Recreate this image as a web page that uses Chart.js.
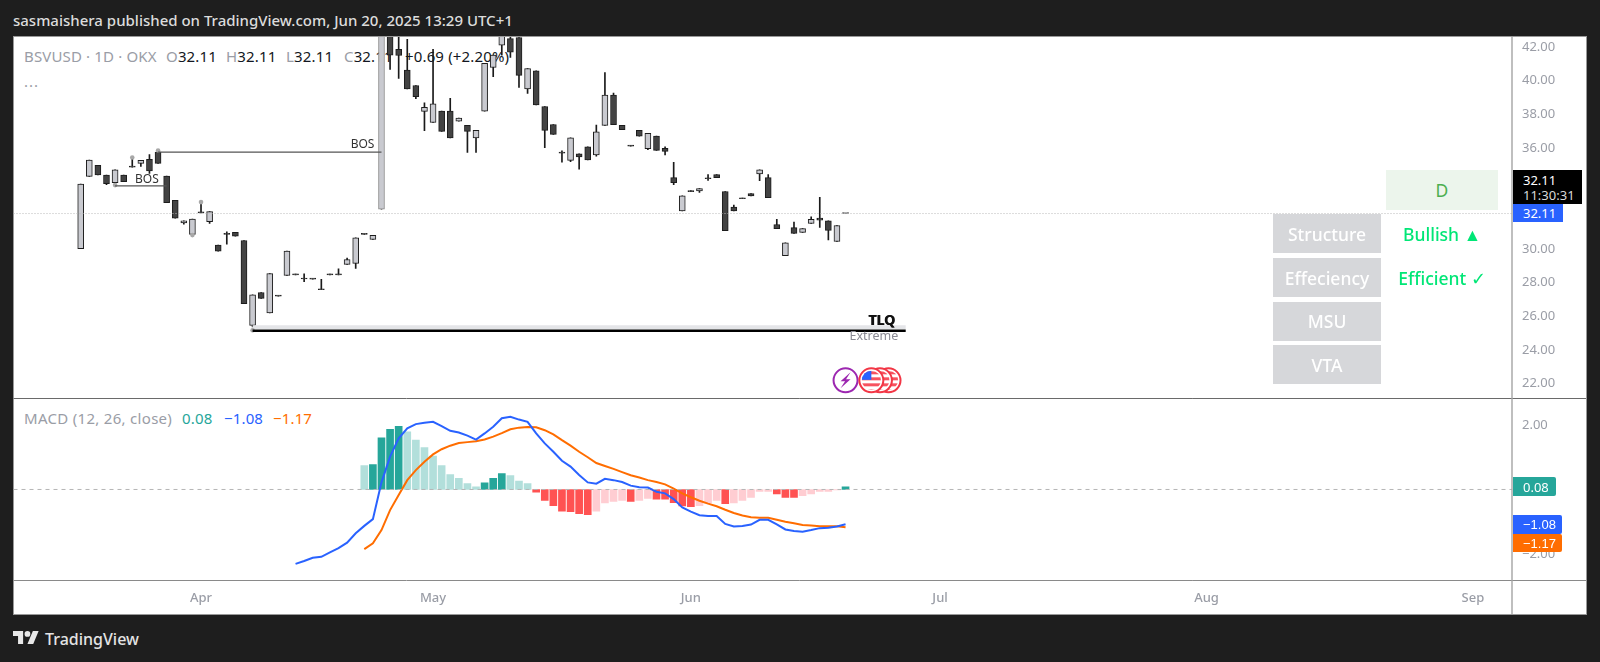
<!DOCTYPE html>
<html>
<head>
<meta charset="utf-8">
<script src="https://cdn.jsdelivr.net/npm/chart.js@4"></script>
<style>
html,body{margin:0;padding:0;width:1600px;height:662px;overflow:hidden;background:#1e1e1e;font-family:"Noto Sans",sans-serif}
.a{position:absolute;white-space:nowrap;line-height:1}
.lg{font-size:15px;letter-spacing:.15px;color:#9a9da6}
.lg span{color:#131722}
#panel{position:absolute;left:13px;top:36px;width:1572px;height:577px;background:#fff;border:1px solid #999}
canvas{position:absolute;left:0;top:0;z-index:2}
.front{z-index:3}
.cell{position:absolute;display:flex;align-items:center;justify-content:center;font-size:17.5px;z-index:3}
.gray{left:1273px;width:108px;height:39px;background:#d6d7da;color:#fff;font-weight:500}
.tag{position:absolute;left:1513px;z-index:3;display:flex;align-items:center;padding-left:10px;box-sizing:border-box;color:#fff;font-size:13px;border-radius:0 2px 2px 0}
</style>
</head>
<body>
<div id="panel"></div>
<div class="a" style="left:13px;top:13px;color:#dcdcdc;font-size:15px;font-weight:500">sasmaishera published on TradingView.com, Jun 20, 2025 13:29 UTC+1</div>

<div class="a lg" style="left:24px;top:49px">BSVUSD · 1D · OKX</div>
<div class="a lg" style="left:166px;top:49px">O<span>32.11</span></div>
<div class="a lg" style="left:226px;top:49px">H<span>32.11</span></div>
<div class="a lg" style="left:286px;top:49px">L<span>32.11</span></div>
<div class="a lg" style="left:344px;top:49px">C<span>32.11</span></div>
<div class="a lg" style="left:405px;top:49px;color:#131722">+0.69 (+2.20%)</div>
<div class="a lg" style="left:24px;top:74px;letter-spacing:1px">...</div>

<div class="a lg" style="left:24px;top:411px;letter-spacing:.3px">MACD (12, 26, close)</div>
<div class="a lg" style="left:182px;top:411px;color:#26a69a">0.08</div>
<div class="a lg" style="left:224px;top:411px;color:#2962ff">−1.08</div>
<div class="a lg" style="left:273px;top:411px;color:#ff6d00">−1.17</div>

<canvas id="c" width="1600" height="662"></canvas>

<div class="cell" style="left:1386px;top:170px;width:112px;height:40px;background:#ecf5ec;color:#4caf50">D</div>
<div class="cell gray" style="top:214px">Structure</div>
<div class="cell gray" style="top:258px">Effeciency</div>
<div class="cell gray" style="top:301.5px">MSU</div>
<div class="cell gray" style="top:345px">VTA</div>
<div class="cell" style="left:1386px;top:214px;width:112px;height:39px;color:#00e676;font-weight:500">Bullish ▲</div>
<div class="cell" style="left:1386px;top:258px;width:112px;height:39px;color:#00e676;font-weight:500">Efficient ✓</div>

<div class="tag" style="top:170px;width:69px;height:34px;background:#000;display:block;padding-top:3px;border-radius:0;line-height:15px"><div>32.11</div><div style="color:#d8d8d8">11:30:31</div></div>
<div class="tag" style="top:204px;width:50px;height:18px;background:#2962ff;border-radius:0">32.11</div>
<div class="tag" style="top:477px;width:43px;height:19px;background:#26a69a">0.08</div>
<div class="tag" style="top:515px;width:49px;height:19px;background:#2962ff;padding-left:10px;font-family:'Liberation Sans'">−1.08</div>
<div class="tag" style="top:534px;width:49px;height:18px;background:#ff6d00;padding-left:10px;font-family:'Liberation Sans'">−1.17</div>

<svg class="a front" style="left:13px;top:631px;z-index:3" width="26" height="13" viewBox="0 4 36 18"><path fill="#e8e8e8" d="M14 22H7V11H0V4h14v18zM28 22h-8l7.5-18h8L28 22z"/><circle cx="20" cy="8" r="4" fill="#e8e8e8"/></svg>
<div class="a" style="left:45px;top:631px;color:#e4e4e4;font-size:16px;font-weight:500">TradingView</div>

<script>
const monthLabels = ["Apr","May","Jun","Jul","Aug","Sep"];
const monthBars = [14,41,71,100,131,162];
const priceTicks = [22,24,26,28,30,32,34,36,38,40,42];
const macdTicks = [-2,0,2];

const opens = [30.02,34.32,34.97,34.39,33.94,34.39,34.90,35.09,35.33,35.76,34.34,32.89,31.56,30.87,32.18,31.62,30.24,30.91,30.99,30.51,25.46,27.42,26.21,27.24,28.43,28.51,28.27,28.25,27.62,28.51,28.51,29.09,29.15,30.91,30.57,32.37,44.00,41.86,40.63,39.72,38.18,37.52,38.20,38.20,37.60,37.35,36.61,38.20,40.79,42.12,42.50,42.57,39.52,40.59,38.47,37.40,35.74,35.27,35.66,36.08,35.60,37.35,39.15,37.35,36.16,37.05,35.96,36.71,35.98,34.24,32.26,33.47,33.46,34.22,34.43,33.42,32.49,33.03,33.29,34.47,34.24,31.46,29.60,31.27,30.99,31.52,31.84,31.68,30.45,32.11];
const highs = [33.86,35.29,34.97,34.39,34.71,34.39,35.38,35.27,35.62,35.76,34.34,32.89,31.68,31.78,32.71,32.22,30.24,31.03,30.99,30.51,27.28,27.42,28.55,27.24,29.88,28.51,28.53,28.25,28.20,28.51,28.83,29.46,30.67,30.91,30.81,44.00,44.00,43.20,42.46,39.72,38.69,41.86,38.20,38.95,37.78,37.35,37.05,41.03,41.52,43.00,42.60,42.57,40.73,40.59,38.47,37.40,35.84,36.61,35.66,36.08,37.37,40.49,39.27,37.35,36.16,37.05,36.87,36.71,36.08,35.15,33.17,33.47,33.60,34.43,34.43,33.42,32.61,33.03,33.29,34.71,34.43,31.76,30.37,31.60,31.21,31.92,33.07,31.68,31.40,32.11];
const lows = [30.02,34.32,34.41,33.82,33.70,34.00,34.87,34.91,34.49,35.09,32.75,31.84,31.48,30.79,32.15,31.52,29.88,30.29,30.77,26.75,25.38,27.07,26.21,27.20,28.43,28.47,28.06,28.21,27.58,28.47,28.47,29.09,28.85,30.87,30.57,32.37,40.67,40.14,39.52,38.93,37.03,37.52,36.99,36.61,37.60,35.74,35.74,38.20,40.24,41.52,41.39,39.60,39.25,38.57,36.02,36.81,35.17,35.19,34.75,35.29,35.52,37.35,37.39,37.09,36.12,36.71,35.90,35.86,35.60,33.82,32.26,33.41,33.36,34.08,34.24,31.09,32.26,32.99,33.15,34.06,33.05,31.21,29.60,30.93,30.99,31.52,31.28,30.55,30.45,32.11];
const closes = [33.86,35.29,34.41,33.88,34.71,34.00,34.87,35.27,34.65,35.09,32.75,31.84,31.68,31.78,32.15,32.22,29.88,30.87,30.77,26.75,27.28,27.07,28.55,27.20,29.88,28.47,28.22,28.21,27.58,28.47,28.47,29.38,30.67,30.87,30.81,44.00,41.52,41.50,39.52,39.05,38.42,38.63,36.99,36.61,37.78,36.99,37.05,41.03,41.52,42.65,41.70,40.32,40.73,38.57,37.05,36.81,35.70,36.61,35.48,35.29,36.97,39.15,37.39,37.09,36.12,36.71,36.87,35.86,35.80,33.94,33.17,33.41,33.60,34.18,34.24,31.09,32.26,32.99,33.15,34.71,33.05,31.21,30.37,30.93,31.21,31.76,31.72,31.11,31.40,32.11];

const histBars = [33,34,35,36,37,38,39,40,41,42,43,44,45,46,47,48,49,50,51,52,53,54,55,56,57,58,59,60,61,62,63,64,65,66,67,68,69,70,71,72,73,74,75,76,77,78,79,80,81,82,83,84,85,86,87,88,89];
const histValues = [0.74,0.77,1.60,1.87,1.96,1.79,1.53,1.30,1.04,0.74,0.46,0.35,0.18,0.08,0.21,0.35,0.49,0.43,0.26,0.18,-0.08,-0.34,-0.50,-0.67,-0.69,-0.75,-0.78,-0.67,-0.42,-0.37,-0.34,-0.37,-0.34,-0.28,-0.30,-0.30,-0.41,-0.51,-0.53,-0.50,-0.42,-0.34,-0.44,-0.42,-0.34,-0.25,-0.06,-0.06,-0.14,-0.25,-0.25,-0.19,-0.14,-0.06,-0.06,-0.01,0.08];
const histStrong = [0,1,1,1,1,0,0,0,0,0,0,0,0,0,1,1,1,0,0,0,1,1,1,1,1,1,1,0,0,0,0,1,0,0,1,1,1,1,1,0,0,0,1,0,0,0,0,0,1,1,1,0,0,0,0,0,1];

const macdBars = [25,26,27,28,29,30,31,32,33,34,35,36,37,38,39,40,41,42,43,44,45,46,47,48,49,50,51,52,53,54,55,56,57,58,59,60,61,62,63,64,65,66,67,68,69,70,71,72,73,74,75,76,77,78,79,80,81,82,83,84,85,86,87,88,89];
const macdValues = [-2.31,-2.22,-2.12,-2.09,-1.95,-1.82,-1.65,-1.36,-1.13,-0.92,0.22,1.02,1.59,1.90,2.03,2.07,2.10,1.97,1.82,1.77,1.67,1.55,1.74,1.95,2.21,2.26,2.17,2.10,1.74,1.43,1.17,0.89,0.71,0.45,0.22,0.18,0.33,0.29,0.23,0.12,0.07,0.06,-0.07,-0.12,-0.30,-0.56,-0.69,-0.80,-0.82,-0.82,-1.07,-1.15,-1.13,-1.09,-0.94,-0.94,-1.08,-1.24,-1.29,-1.31,-1.26,-1.20,-1.19,-1.15,-1.08];
const signalBars = histBars;
const signalValues = [-1.85,-1.67,-1.26,-0.64,-0.17,0.29,0.60,0.86,1.09,1.25,1.36,1.44,1.47,1.50,1.55,1.64,1.75,1.87,1.92,1.94,1.93,1.84,1.71,1.53,1.36,1.17,1.00,0.82,0.73,0.64,0.54,0.44,0.37,0.29,0.23,0.16,0.03,-0.12,-0.24,-0.35,-0.44,-0.52,-0.63,-0.73,-0.81,-0.86,-0.88,-0.88,-0.94,-1.00,-1.05,-1.10,-1.12,-1.14,-1.14,-1.14,-1.17];

const pivotBars = [4,6,9,13,14,20];
const pivotPrices = [33.80,35.44,35.86,30.83,32.79,25.18];
const lastPrice = 32.11;
const bos = [{from:4,to:10,price:33.76,labelBar:7.7,labelPrice:34.10},{from:9,to:35,price:35.76,labelBar:32.8,labelPrice:36.18}];
const tlq = {from:20,to:96,price:25.15,bandPrice:25.35};

const X_MIN=-7.82, X_MAX=166.55;
const barIdx = opens.map((_,i)=>i);
const isUp = (o,c)=>c>=o;
const line=(pts,color,width,yAxisID,extra)=>Object.assign({type:'line',data:pts,borderColor:color,borderWidth:width,pointRadius:0,yAxisID,order:1,tension:0,fill:false},extra||{});

const decor = {
  id:'decor',
  afterDatasetsDraw(chart){
    const {ctx,chartArea:a,scales:{x,y,y2}} = chart;
    ctx.save();
    // separators
    ctx.lineWidth=1;
    ctx.strokeStyle='#6a6a6a'; ctx.beginPath(); ctx.moveTo(a.left,y.bottom+.5); ctx.lineTo(a.right+74,y.bottom+.5); ctx.stroke();
    ctx.strokeStyle='#8a8a8a'; ctx.beginPath(); ctx.moveTo(a.left,a.bottom+.5); ctx.lineTo(a.right+74,a.bottom+.5); ctx.stroke();
    ctx.strokeStyle='#a4a4a4'; ctx.lineWidth=1.4; ctx.beginPath(); ctx.moveTo(a.right,a.top); ctx.lineTo(a.right,a.bottom+34); ctx.stroke();
    // labels
    ctx.textAlign='center'; ctx.textBaseline='middle';
    ctx.fillStyle='#333'; ctx.font='12px "Noto Sans"';
    bos.forEach(b=>ctx.fillText('BOS',x.getPixelForValue(b.labelBar),y.getPixelForValue(b.labelPrice)));
    const tx=x.getPixelForValue(93.2), ty=y.getPixelForValue(25.74);
    ctx.fillStyle='#111'; ctx.font='bold 14px "Noto Sans"';
    ctx.fillText('TLQ',tx,ty); ctx.fillText('TLQ',tx+.7,ty);
    ctx.fillStyle='#8a8a94'; ctx.font='12.5px "Noto Sans"';
    ctx.fillText('Extreme',x.getPixelForValue(92.3),y.getPixelForValue(24.83));
    // event icons
    const iy=y.getPixelForValue(22.2), r=12;
    const px=x.getPixelForValue(89);
    ctx.beginPath(); ctx.arc(px,iy,r,0,7); ctx.fillStyle='#fff'; ctx.fill(); ctx.strokeStyle='#9c27b0'; ctx.lineWidth=2; ctx.stroke();
    ctx.fillStyle='#9c27b0'; ctx.beginPath();
    ctx.moveTo(px+5,iy-8); ctx.lineTo(px-5,iy+1); ctx.lineTo(px-.5,iy+1); ctx.lineTo(px-5,iy+8); ctx.lineTo(px+5,iy-1); ctx.lineTo(px+.5,iy-1); ctx.closePath(); ctx.fill();
    [94,93,92].forEach(b=>{
      const cx=x.getPixelForValue(b);
      ctx.save();
      ctx.beginPath(); ctx.arc(cx,iy,r,0,7); ctx.fillStyle='#fff'; ctx.fill();
      ctx.strokeStyle='#f23645'; ctx.lineWidth=2; ctx.stroke();
      ctx.beginPath(); ctx.arc(cx,iy,r-2.5,0,7); ctx.clip();
      ctx.fillStyle='#f7525f';
      for(let k=-9;k<10;k+=6) ctx.fillRect(cx-10,iy+k,20,3);
      ctx.fillStyle='#2962ff'; ctx.fillRect(cx-10,iy-10,10,9.5);
      ctx.restore();
    });
    ctx.restore();
  }
};

new Chart(document.getElementById('c'),{
  data:{datasets:[
    {type:'bar',yAxisID:'y',order:6,grouped:false,barThickness:1,backgroundColor:'#1a1a1a',
     data:barIdx.map(i=>({x:i,y:[lows[i],highs[i]]}))},
    {type:'bar',yAxisID:'y',order:5,grouped:false,barThickness:6,minBarLength:1,borderWidth:1,borderSkipped:false,
     borderColor:barIdx.map(i=>Math.abs(closes[i]-opens[i])>5?'#8a8a8a':'#1c1c1c'),
     backgroundColor:barIdx.map(i=>isUp(opens[i],closes[i])?'#c9cad0':'#434343'),
     data:barIdx.map(i=>({x:i,y:[opens[i],closes[i]]}))},
    {type:'bar',yAxisID:'y2',order:5,grouped:false,barThickness:7,
     backgroundColor:histBars.map((_,k)=>histValues[k]>=0?(histStrong[k]?'#26a69a':'#b2dfdb'):(histStrong[k]?'#ff5252':'#ffcdd2')),
     data:histBars.map((b,k)=>({x:b,y:[0,histValues[k]]}))},
    line([{x:X_MIN,y:lastPrice},{x:X_MAX,y:lastPrice}],'#b8b8b8',1,'y',{borderDash:[1,2]}),
    line([{x:X_MIN,y:0},{x:X_MAX,y:0}],'#b5b5b5',1,'y2',{borderDash:[4,4]}),
    line(bos.flatMap(b=>[{x:b.from,y:b.price},{x:b.to,y:b.price},{x:b.to,y:NaN}]),'#555',1.3,'y'),
    line([{x:tlq.from,y:tlq.bandPrice},{x:tlq.to,y:tlq.bandPrice}],'#e4e5e8',4,'y',{order:3}),
    line([{x:tlq.from,y:tlq.price},{x:tlq.to,y:tlq.price}],'#000',2.4,'y'),
    {type:'scatter',yAxisID:'y',order:2,pointRadius:2.3,backgroundColor:'#a8a8a8',borderWidth:0,
     data:pivotBars.map((b,k)=>({x:b,y:pivotPrices[k]}))},
    line(macdBars.map((b,k)=>({x:b,y:macdValues[k]})),'#2962ff',2,'y2'),
    line(signalBars.map((b,k)=>({x:b,y:signalValues[k]})),'#ff6d00',2,'y2'),
  ]},
  options:{
    responsive:false,animation:false,devicePixelRatio:1,
    layout:{padding:{left:13.5,top:37,right:14,bottom:48}},
    plugins:{legend:{display:false},tooltip:{enabled:false}},
    scales:{
      x:{type:'linear',offset:false,min:X_MIN,max:X_MAX,grid:{display:false,offset:false},border:{display:false},
         afterFit(s){s.height=34;},
         afterBuildTicks(s){s.ticks=monthBars.map(v=>({value:v}));},
         ticks:{autoSkip:false,maxRotation:0,padding:2,color:'#9a9da6',font:{family:'Noto Sans',size:13,weight:'500'},
                callback:(v)=>monthLabels[monthBars.indexOf(v)]}},
      y:{type:'linear',position:'right',stack:'panes',stackWeight:361,min:21.15,max:42.6,grid:{display:false,drawTicks:false},border:{display:false},
         afterFit(s){s.width=74;},
         afterBuildTicks(s){s.ticks=priceTicks.map(v=>({value:v}));},
         ticks:{padding:10,color:'#9a9da6',font:{family:'Noto Sans',size:13},callback:v=>v.toFixed(2)}},
      y2:{type:'linear',position:'right',stack:'panes',stackWeight:182,min:-2.81,max:2.84,grid:{display:false,drawTicks:false},border:{display:false},
         afterFit(s){s.width=74;},
         afterBuildTicks(s){s.ticks=macdTicks.map(v=>({value:v}));},
         ticks:{padding:10,color:'#9a9da6',font:{family:'Noto Sans',size:13},callback:v=>(v<0?'−':'')+Math.abs(v).toFixed(2)}}
    }
  },
  plugins:[decor]
});
</script>
</body>
</html>
